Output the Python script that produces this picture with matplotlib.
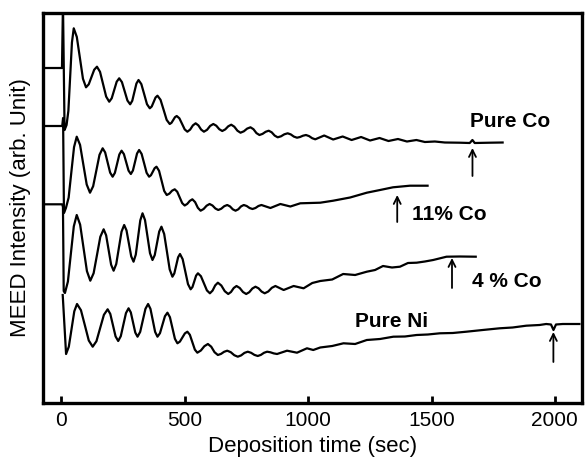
import matplotlib
matplotlib.use("Agg")
import matplotlib.pyplot as plt

# ---- data: (deposition time [s], MEED intensity [arb. units]) ----
pure_co = [
    (-75, 335), (2, 335), (6, 400), (12.5, 273), (20.6, 278), (27.9, 292.1), (35.2, 326.4),
    (42.4, 360.6), (49.7, 374.7), (62.1, 366.1), (74.6, 345.2), (87, 324.3), (99.4, 315.7),
    (110.5, 318.7), (121.6, 326), (132.7, 333.3), (143.8, 336.3), (156.2, 331.2), (168.7, 318.8),
    (181.1, 306.4), (193.5, 301.3), (203.6, 304.7), (213.7, 313), (223.8, 321.3), (233.9, 324.7),
    (245, 320.9), (256.2, 311.7), (267.3, 302.5), (278.4, 298.7), (286.9, 302.2), (295.4, 310.9),
    (303.8, 319.5), (312.3, 323), (323.7, 318.9), (335.2, 308.9), (346.6, 298.8), (358, 294.7),
    (365.8, 296.5), (373.6, 301), (381.3, 305.5), (389.1, 307.3), (401.5, 303.2), (414, 293.2),
    (426.4, 283.1), (438.8, 279), (445.9, 280.2), (453, 283), (460, 285.8), (467.1, 287),
    (477.9, 284.7), (488.7, 279.2), (499.5, 273.6), (510.3, 271.3), (521.5, 273.4), (532.6, 277.6),
    (543.8, 279.7), (555, 277.6), (566.2, 273.4), (577.4, 271.3), (590.1, 273.2), (602.7, 277.1),
    (615.4, 279), (627.5, 277.3), (639.6, 273.8), (651.7, 272), (663.8, 273.6), (676, 276.7),
    (688.1, 278.3), (700.6, 276.3), (713.2, 272.3), (725.7, 270.3), (739.2, 271.7), (752.6, 274.4),
    (766.1, 275.7), (778.2, 273.8), (790.3, 269.9), (802.4, 268), (814.9, 269.1), (827.5, 271.2),
    (840, 272.3), (852.1, 270.7), (864.3, 267.4), (876.4, 265.7), (889.9, 266.7), (903.3, 268.7),
    (916.8, 269.7), (929.4, 268.6), (942.1, 266.4), (954.7, 265.3), (966.8, 266), (979, 267.3),
    (991.1, 268), (1003.6, 266.9), (1016.2, 264.8), (1028.7, 263.7), (1064.9, 267.5),
    (1101.3, 263.5), (1139.8, 266.5), (1176.1, 263), (1214.5, 266), (1250.9, 262.5),
    (1289.3, 265), (1325.6, 262), (1364, 264), (1400.4, 261.5), (1438.8, 263), (1473.1, 261),
    (1513.5, 261.5), (1553.9, 260.5), (1614.5, 260.3), (1654.9, 260), (1665.8, 263),
    (1675.1, 260), (1735.7, 260.3), (1788.2, 260.5)]

co_11 = [
    (-75, 277), (3, 277), (6.5, 285), (10, 190), (18, 195), (29, 205.4), (39.9, 230.7),
    (50.9, 255.9), (61.8, 266.3), (75.3, 258.1), (88.7, 238.3), (102.2, 218.5), (115.6, 210.3),
    (128.4, 216.8), (141.3, 232.5), (154.1, 248.2), (166.9, 254.7), (177, 250.6), (187.1, 240.5),
    (197.2, 230.4), (207.3, 226.3), (216.4, 230.1), (225.5, 239.3), (234.5, 248.5), (243.6, 252.3),
    (253, 248.9), (262.4, 240.7), (271.8, 232.4), (281.2, 229), (289.6, 232.5), (298, 241),
    (306.3, 249.5), (314.7, 253), (324.8, 249.1), (335, 239.7), (345.1, 230.2), (355.2, 226.3),
    (362.7, 227.8), (370.2, 231.3), (377.6, 234.8), (385.1, 236.3), (395.5, 232.2), (405.9, 222.2),
    (416.3, 212.1), (426.7, 208), (437.5, 209.4), (448.2, 212.3), (459, 213.7), (469.1, 211.3),
    (479.2, 205.6), (489.3, 199.9), (499.4, 197.5), (509.8, 199.1), (520.1, 202.1),
    (530.5, 203.7), (541.7, 200.9), (552.8, 195.2), (564, 192.3), (576.1, 194), (588.3, 197.3),
    (600.4, 199), (612.1, 197.5), (623.9, 194.5), (635.6, 193), (647.7, 194.3), (659.8, 196.8),
    (671.9, 198), (683.1, 196.6), (694.3, 193.7), (705.5, 192.3), (716.7, 193.7), (727.8, 196.6),
    (739, 198), (750.7, 197), (762.5, 195), (774.2, 194), (786.3, 195), (798.4, 197),
    (810.5, 198), (846.9, 195), (887.3, 199), (927.7, 196.5), (968, 199.7), (1048.9, 200.3),
    (1101.4, 202.3), (1170, 205.5), (1237.6, 210.3), (1291.3, 213), (1343.8, 215.7),
    (1412.5, 217.3), (1484, 217.3)]

co_4 = [
    (-75, 198.7), (3, 198.7), (6, 196), (9, 112), (14, 110), (26, 121.4), (37.9, 149),
    (49.9, 176.6), (61.8, 188), (75.6, 178.4), (89.3, 155.2), (103.1, 131.9), (116.8, 122.3),
    (130.3, 129.8), (143.9, 148), (157.4, 166.2), (170.9, 173.7), (181, 167.7), (191.1, 153),
    (201.2, 138.3), (211.3, 132.3), (222, 139), (232.7, 155.2), (243.4, 171.3), (254.1, 178),
    (263.6, 172.6), (273.1, 159.7), (282.6, 146.7), (292.1, 141.3), (301.2, 148.4), (310.3, 165.5),
    (319.4, 182.6), (328.5, 189.7), (338.6, 182.9), (348.7, 166.4), (358.8, 149.8), (368.9, 143),
    (378, 147.9), (387.1, 159.7), (396.1, 171.4), (405.2, 176.3), (416.3, 169), (427.5, 151.3),
    (438.6, 133.6), (449.7, 126.3), (457.4, 129.6), (465.1, 137.7), (472.7, 145.7), (480.4, 149),
    (491.2, 143.8), (502, 131.4), (512.8, 118.9), (523.6, 113.7), (531, 116), (538.4, 121.7),
    (545.7, 127.4), (553.1, 129.7), (565.2, 126.8), (577.4, 119.7), (589.5, 112.6),
    (601.6, 109.7), (612.4, 112.4), (623.1, 117.6),
    (633.9, 120.3), (647.9, 117.5), (661.9, 111.8), (675.9, 109), (687.1, 111), (698.3, 115),
    (709.5, 117), (722.6, 115), (735.6, 111), (748.7, 109), (761.2, 110.8), (773.8, 114.5),
    (786.3, 116.3), (798.8, 114.7), (811.3, 111.4), (823.8, 109.7), (838.2, 111.5), (852.7, 115.2),
    (867.1, 117), (900.6, 113), (941, 117), (981.4, 114.7), (1016.6, 120), (1048.9, 122),
    (1097.4, 123.5), (1141.8, 129), (1190.3, 128), (1237.6, 131.3), (1271.1, 133),
    (1303.4, 137), (1339.8, 135.5), (1372.1, 136.3), (1404.5, 140), (1439.6, 140.3),
    (1473.1, 141.5), (1506.7, 143), (1560.8, 146.3), (1614.5, 146.5), (1679.2, 146.3)]

pure_ni = [
    (5, 108), (18.6, 49), (29.7, 56.3), (40.8, 74), (51.9, 91.7), (63, 99), (78.9, 92.8),
    (94.8, 77.7), (110.6, 62.5), (126.5, 56.3), (141.7, 61.8), (156.8, 75), (172, 88.2),
    (187.1, 93.7), (197.8, 89.1), (208.5, 77.9), (219.2, 66.6), (229.9, 62), (240.4, 66.8),
    (250.9, 78.4), (261.4, 89.9), (271.9, 94.7), (281, 90.6), (290.1, 80.5), (299.2, 70.4),
    (308.3, 66.3), (319, 71.1), (329.7, 82.7), (340.4, 94.2), (351.1, 99), (360.6, 94.2),
    (370.1, 82.7), (379.6, 71.1), (389.1, 66.3), (399.2, 69.8), (409.3, 78.3), (419.4, 86.8),
    (429.5, 90.3), (439.6, 85.8), (449.7, 75), (459.8, 64.2), (469.9, 59.7), (480, 61.4),
    (490.1, 65.5), (500.2, 69.6), (510.3, 71.3), (520.4, 68.2), (530.5, 60.8), (540.6, 53.4),
    (550.7, 50.3), (565, 52.5), (579.2, 56.8), (593.5, 59), (607, 56.3), (620.4, 50.8),
    (633.9, 48), (646.6, 49.1), (659.2, 51.2), (671.9, 52.3), (686.2, 50.8), (700.4, 47.8),
    (714.7, 46.3), (728.2, 47.6), (741.6, 50.1), (755.1, 51.3), (768.6, 50.2), (782.1, 48.1),
    (795.6, 47), (808.2, 48.1), (820.9, 50.2), (833.5, 51.3), (847, 50.7), (860.4, 49.6),
    (873.9, 49), (914.3, 52.3), (954.7, 50.3), (995.1, 54.7), (1020.6, 53), (1048.9, 55.5),
    (1097.4, 57), (1143, 59.7), (1190.3, 59), (1237.6, 63), (1291.3, 64), (1345.1, 66.3),
    (1392.3, 66.5), (1439.6, 68), (1485.3, 68.5), (1533.7, 69.7), (1586.2, 70), (1641.6, 71.3),
    (1707.5, 73), (1776.2, 74.7), (1828.7, 75.5), (1884.1, 77.3), (1937.8, 78), (1964.9, 79),
    (1984.3, 78.5), (1994.4, 73), (2004.5, 78.5), (2031.9, 79), (2099.4, 79)]

labels = ["Pure Co", "11% Co", "4 % Co", "Pure Ni"]
label_x = [1820, 1574, 1805, 1338]
label_y = [276, 183, 116, 76]
arrow_x = [1666, 1361, 1583, 1994]
arrow_top = [255, 208, 145, 71]
arrow_bottom = [227, 181, 115, 41]

xticks = [0, 500, 1000, 1500, 2000]

# ---- figure ----
plt.rcParams['font.family'] = ['Liberation Sans', 'DejaVu Sans']
fig = plt.figure(figsize=(5.88, 4.58), dpi=100)
ax = fig.add_axes([0.0731, 0.1201, 0.9898 - 0.0731, 0.9716 - 0.1201])

for series in (pure_co, co_11, co_4, pure_ni):
    t = [p[0] for p in series]
    y = [p[1] for p in series]
    ax.plot(t, y, color='black', lw=1.6, solid_joinstyle='round')

for lab, lx, ly in zip(labels, label_x, label_y):
    ax.text(lx, ly, lab, ha='center', va='baseline', fontsize=15, fontweight='bold')

for axx, top, bot in zip(arrow_x, arrow_top, arrow_bottom):
    ax.annotate('', xy=(axx, top), xytext=(axx, bot),
                arrowprops=dict(arrowstyle='->,head_length=0.5,head_width=0.25',
                                color='black', lw=1.3, shrinkA=0, shrinkB=0))

ax.set_xlim(-75, 2110)
ax.set_ylim(0, 390)
ax.set_xticks(xticks)
ax.set_yticks([])
ax.tick_params(axis='x', direction='in', length=5, width=2, labelsize=15, pad=6)
for sp in ax.spines.values():
    sp.set_linewidth(2.4)
ax.set_xlabel('Deposition time (sec)', fontsize=16, labelpad=4)
ax.set_ylabel('MEED Intensity (arb. Unit)', fontsize=16)
ax.yaxis.set_label_coords(-0.022, 0.5)

fig.savefig('out.png', dpi=100)
